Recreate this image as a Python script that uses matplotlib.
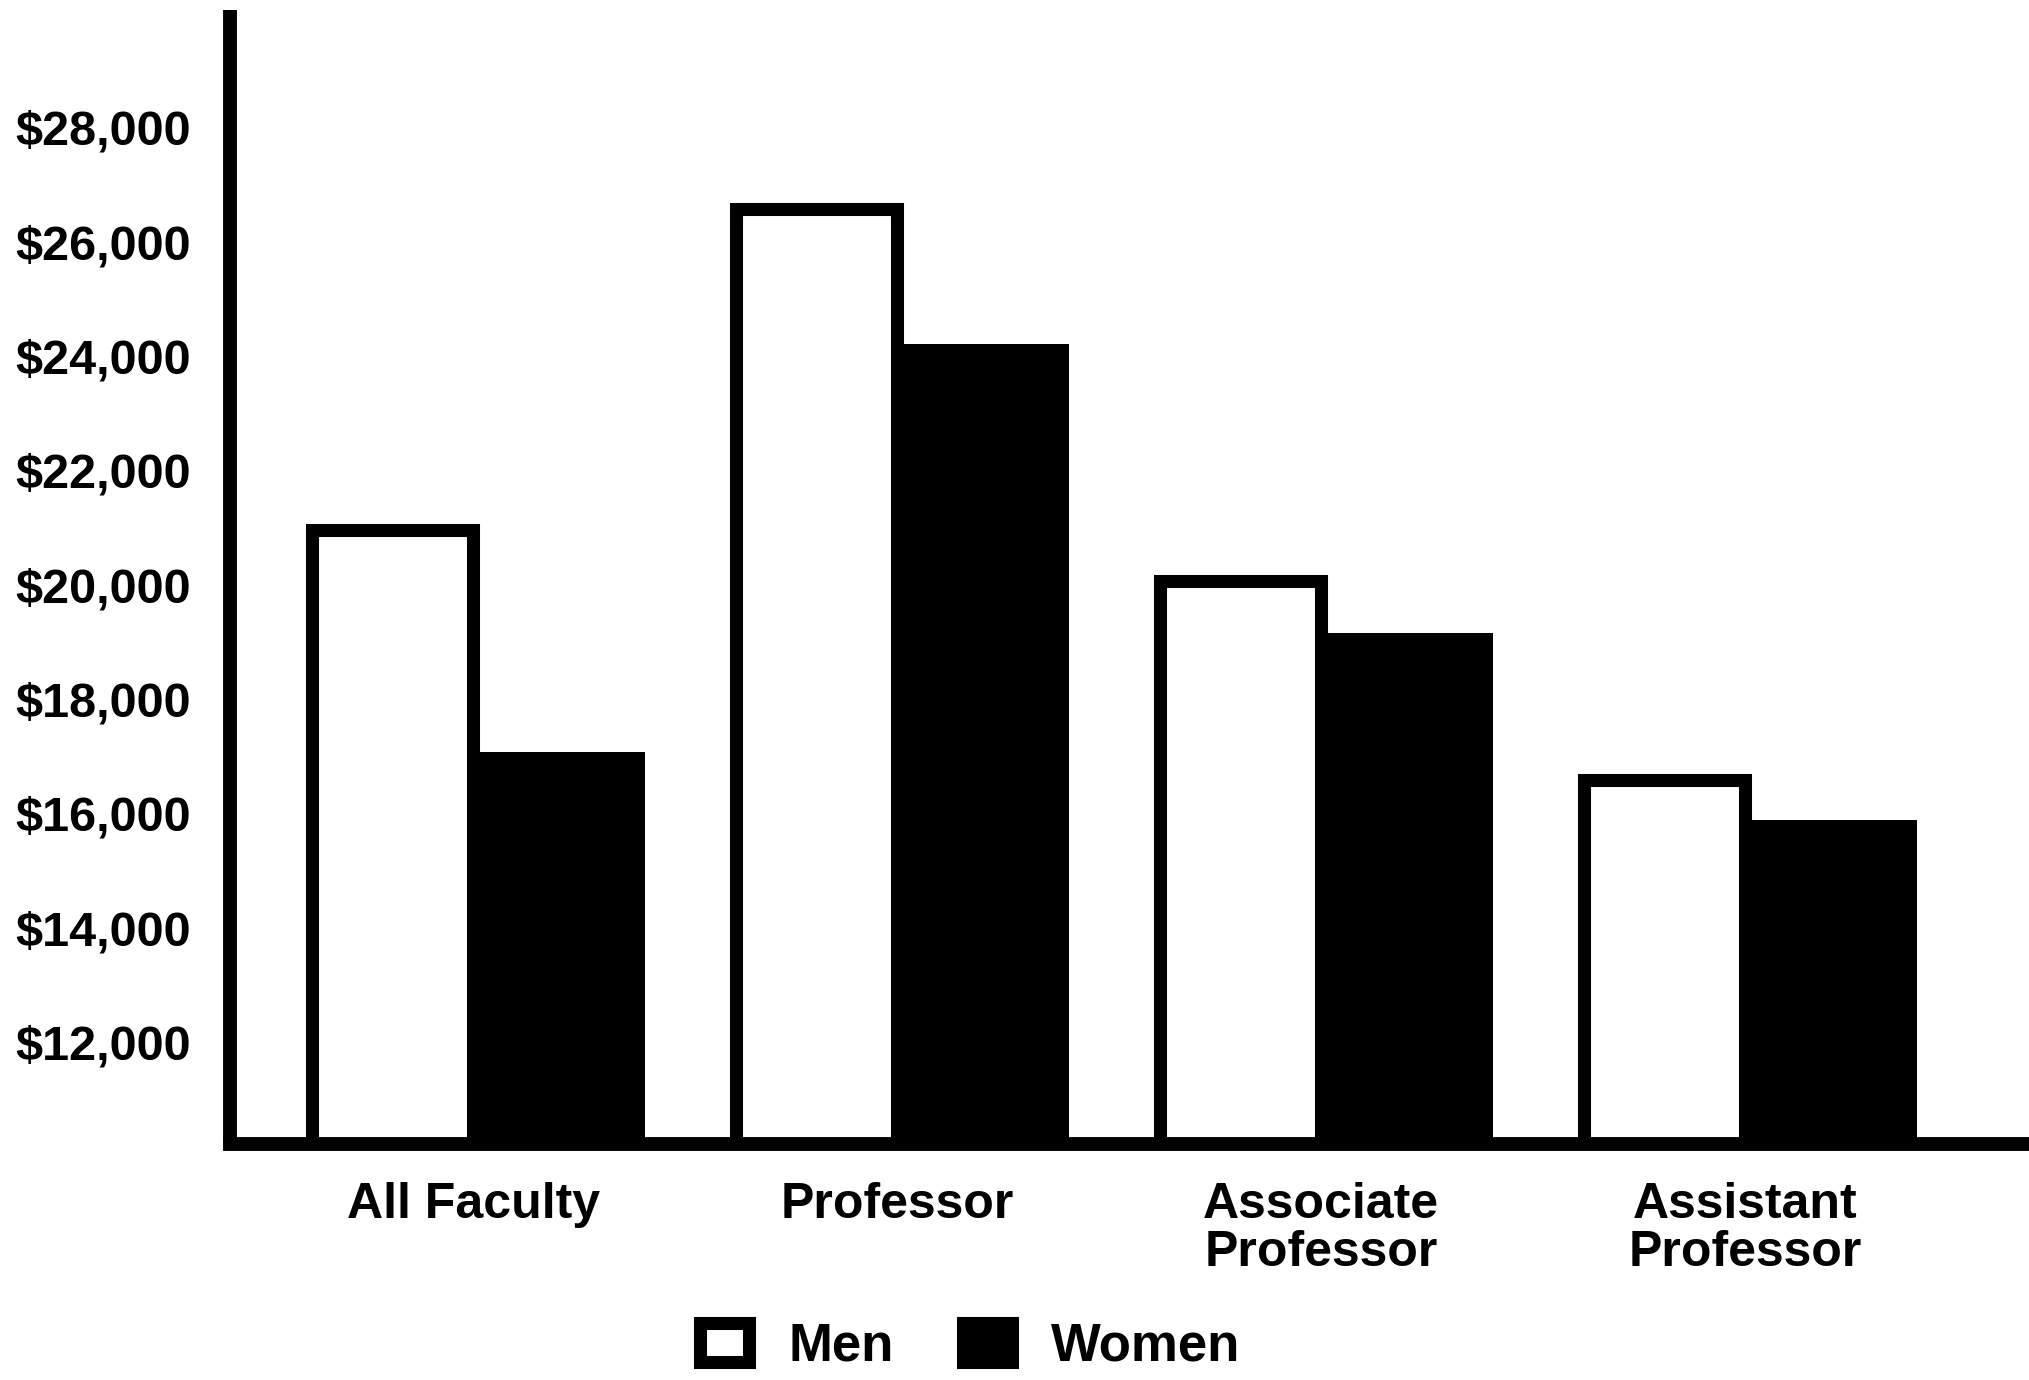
import matplotlib

matplotlib.use("Agg")
import matplotlib.pyplot as plt
import numpy as np
from matplotlib import font_manager

# average salaries
categories = ["All Faculty", "Professor", "Associate\nProfessor", "Assistant\nProfessor"]
men = [20950, 26570, 20070, 16580]
women = [17070, 24210, 19150, 15890]
ytick_vals = [12000, 14000, 16000, 18000, 20000, 22000, 24000, 26000, 28000]

names = {f.name for f in font_manager.fontManager.ttflist}
FONT = "Liberation Sans" if "Liberation Sans" in names else "DejaVu Sans"
plt.rcParams["font.family"] = [FONT, "DejaVu Sans"]
plt.rcParams["font.weight"] = "bold"

fig = plt.figure(figsize=(20.29, 13.80), dpi=100)
ax = fig.add_axes([0.1134, 0.1710, 0.8866, 0.8218])

x = np.arange(len(categories))
w_men, w_women = 0.38, 0.405
bars_m = ax.bar(x - w_men / 2, men, width=w_men, color="white",
                edgecolor="black", linewidth=9.4, label="Men", zorder=3)
bars_w = ax.bar(x + w_women / 2, women, width=w_women, color="black",
                edgecolor="none", linewidth=0, label="Women", zorder=2)

ax.set_xlim(-0.573, 3.67)
ax.set_ylim(10220, 30050)

for side in ("top", "right"):
    ax.spines[side].set_visible(False)
for side in ("left", "bottom"):
    ax.spines[side].set_linewidth(10)
    ax.spines[side].set_color("black")
    ax.spines[side].set_zorder(4)
ax.spines["left"].set_capstyle("butt")

ax.set_yticks(ytick_vals)
ax.set_yticklabels([f"${v:,}" for v in ytick_vals], fontsize=35, fontweight="bold")
ax.set_xticks(x)
ax.set_xticklabels(categories, fontsize=36, fontweight="bold", linespacing=1.08)
ax.tick_params(axis="y", length=0, pad=28)
ax.tick_params(axis="x", length=0, pad=27)

leg = fig.legend(
    handles=[bars_m, bars_w],
    labels=["Men", "Women"],
    loc="center",
    bbox_to_anchor=(0.4783, 0.024),
    ncol=2,
    frameon=False,
    prop={"weight": "bold", "size": 38},
    handlelength=0.93,
    handleheight=0.75,
    handletextpad=0.75,
    columnspacing=1.3,
)
for h in leg.legend_handles:
    h.set_edgecolor("black")
    h.set_linewidth(9.4)

fig.savefig("out.png", dpi=100)
